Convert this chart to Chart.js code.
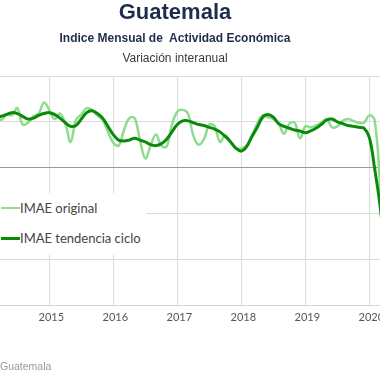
<!DOCTYPE html>
<html>
<head>
<meta charset="utf-8">
<script src="https://cdn.jsdelivr.net/npm/chart.js@4"></script>
<style>
  html, body { margin: 0; padding: 0; background: #fff; }
  body { width: 380px; height: 380px; overflow: hidden; position: relative; }
  #c { position: absolute; left: 0; top: 0; }
  .t { position: absolute; left: 0; width: 350px; text-align: center; white-space: pre; font-family: "Liberation Sans", Arial, sans-serif; line-height: 1; }
  #title { top: 0.5px; font-size: 22px; font-weight: bold; color: #1f2d4d; }
  #sub { top: 31.5px; font-size: 12px; font-weight: bold; color: #1f2d4d; }
  #sub2 { top: 52.3px; font-size: 12px; color: #3a3a3a; }
  #foot { position: absolute; left: 0; top: 360.6px; font-family: "Liberation Sans", Arial, sans-serif; font-size: 10.5px; line-height: 1; color: #9a9a9a; }
  #legend { position: absolute; left: 0; top: 193px; width: 146px; height: 62px; background: #fff; }
  .li { position: absolute; left: 20px; font-family: Lato, "Open Sans", sans-serif; font-size: 13px; line-height: 13px; color: #444; white-space: nowrap; }
  .sw { position: absolute; left: 1px; width: 19px; }
</style>
</head>
<body>
<canvas id="c" width="380" height="380"></canvas>
<div class="t" id="title">Guatemala</div>
<div class="t" id="sub">Indice Mensual de  Actividad Económica</div>
<div class="t" id="sub2">Variación interanual</div>
<div id="legend"></div>
<div id="foot">Guatemala</div>
<script>
// Months: Jan 2014 .. Apr 2020
const startYear = 2014;
const seriesNames = ['IMAE original', 'IMAE tendencia ciclo'];
const imaeOriginal = [
  5.7, 5.4, 6.0, 5.2, 5.8, 5.7, 6.5, 4.7, 4.9, 5.6, 5.9, 7.1,
  6.3, 5.3, 5.9, 4.8, 2.8, 5.2, 5.8, 6.5, 6.3, 5.7, 5.2, 3.9,
  2.7, 2.4, 4.1, 5.4, 5.4, 3.0, 1.0, 2.4, 3.6, 2.4, 2.3, 4.7,
  6.1, 6.3, 5.9, 3.5, 2.5, 3.1, 4.7, 4.5, 2.8, 3.5, 2.8, 2.1,
  2.1, 2.4, 3.5, 4.8, 5.7, 5.5, 5.3, 4.8, 3.7, 4.8, 4.9, 3.2,
  4.5, 4.4, 4.6, 4.9, 5.3, 4.4, 4.5, 5.1, 5.3, 5.1, 4.9, 4.9,
  5.7, 5.2, -2.2, -17.8
];
const imaeTendencia = [
  5.4, 5.5, 5.6, 5.6, 5.8, 6.0, 5.9, 5.6, 5.3, 5.4, 5.7, 5.9,
  6.0, 5.8, 5.4, 4.9, 4.5, 4.6, 5.3, 6.0, 6.2, 5.9, 5.4, 4.5,
  3.6, 3.0, 2.9, 3.0, 3.2, 3.0, 2.8, 2.5, 2.4, 2.6, 3.1, 3.9,
  4.7, 5.1, 5.1, 4.9, 4.7, 4.6, 4.4, 4.2, 3.9, 3.4, 2.8, 2.1,
  1.8, 2.3, 3.4, 4.4, 5.5, 5.8, 5.5, 4.8, 4.5, 4.3, 4.1, 4.0,
  3.8, 4.0, 4.3, 4.7, 5.2, 5.3, 5.0, 4.8, 4.6, 4.5, 4.4, 4.3,
  3.3, -0.1, -4.1, -9.6
];
const yearTicks = [2015, 2016, 2017, 2018, 2019, 2020];
const yearLabels = ['2015', '2016', '2017', '2018', '2019', '2020'];
const yTicks = [-15, -10, -5, 0, 5, 10];

const colors = ['#8fdc8f', '#0a8a0a'];

function toPoints(arr) {
  return arr.map((v, i) => ({ x: startYear + i / 12, y: v }));
}

// legend (HTML)
const leg = document.getElementById('legend');
[[seriesNames[0], colors[0], 2, 208], [seriesNames[1], colors[1], 3, 238]].forEach(([name, col, w, cy]) => {
  const s = document.createElement('div');
  s.className = 'sw';
  s.style.top = (cy - 193 - w / 2) + 'px';
  s.style.height = w + 'px';
  s.style.background = col;
  leg.appendChild(s);
  const t = document.createElement('div');
  t.className = 'li';
  t.textContent = name;
  t.style.top = (cy - 193 - 6.5) + 'px';
  leg.appendChild(t);
});

const xMin = 2015 - 49.3 / 64;
const xMax = xMin + 380 / 64;

new Chart(document.getElementById('c'), {
  type: 'line',
  data: {
    datasets: [
      { label: seriesNames[0], data: toPoints(imaeOriginal), borderColor: colors[0], borderWidth: 2.5, pointRadius: 0, tension: 0.4, fill: false, order: 2 },
      { label: seriesNames[1], data: toPoints(imaeTendencia), borderColor: colors[1], borderWidth: 3, pointRadius: 0, tension: 0.4, fill: false, order: 1 }
    ]
  },
  options: {
    responsive: false,
    animation: false,
    devicePixelRatio: 1,
    layout: { padding: { top: 76, left: 0, right: 0, bottom: 0 } },
    plugins: { legend: { display: false }, title: { display: false }, tooltip: { enabled: false } },
    scales: {
      x: {
        type: 'linear',
        min: xMin,
        max: xMax,
        afterFit: (s) => { s.height = 75; s.paddingLeft = 0; s.paddingRight = 0; },
        afterBuildTicks: (s) => { s.ticks = yearTicks.map(v => ({ value: v })); },
        grid: { color: '#dcdcdc', drawTicks: false },
        border: { color: '#d4d4d4' },
        ticks: {
          padding: 6,
          labelOffset: 2,
          maxRotation: 0,
          color: '#555',
          font: { family: 'Lato', size: 11 },
          callback: (v) => { const i = yearTicks.indexOf(v); return i >= 0 ? yearLabels[i] : ''; }
        }
      },
      y: {
        min: -15,
        max: 10,
        afterFit: (s) => { s.width = 0; s.paddingTop = 0; s.paddingBottom = 0; },
        afterBuildTicks: (s) => { s.ticks = yTicks.map(v => ({ value: v })); },
        grid: { color: (ctx) => ctx.tick && ctx.tick.value === 0 ? '#9a9a9a' : '#dcdcdc', drawTicks: false },
        border: { display: false },
        ticks: { display: false }
      }
    }
  }
});
</script>
</body>
</html>
